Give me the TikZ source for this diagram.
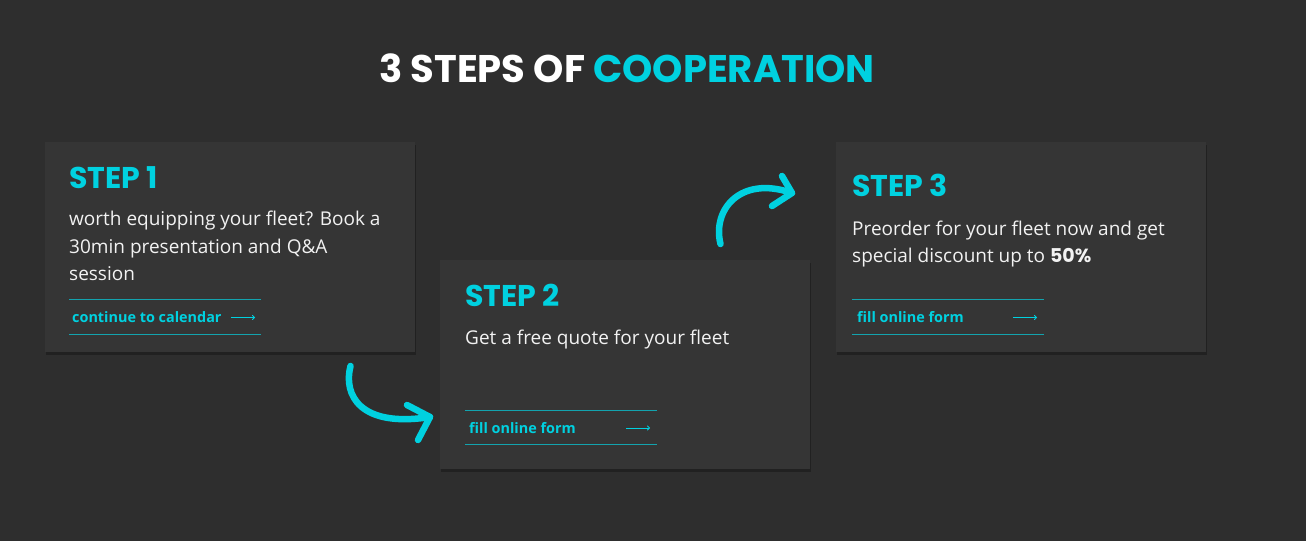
\documentclass[tikz,border=0pt]{standalone}
\usepackage{fontspec}
\setmainfont{Open Sans}
\newfontfamily\headfont{Poppins}
\usetikzlibrary{arrows.meta}
\definecolor{bgc}{HTML}{2E2E2E}
\definecolor{cardc}{HTML}{353535}
\definecolor{cyanc}{HTML}{00D1E0}
\definecolor{linec}{HTML}{13A3AE}
\definecolor{txtc}{HTML}{F2F2F2}
\tikzset{
  card/.style={fill=cardc, draw=none},
  cardshadow/.style={fill=black, opacity=0.28, draw=none},
  head/.style={anchor=base west, inner sep=0pt, text=cyanc, font=\headfont\bfseries\fontsize{30}{34}\selectfont},
  body/.style={anchor=base west, inner sep=0pt, text=txtc, font=\fontsize{19}{27.5}\selectfont},
  link/.style={anchor=base west, inner sep=0pt, text=cyanc, font=\bfseries\fontsize{14.4}{17}\selectfont},
  sep/.style={draw=linec, line width=1pt},
  smallarrow/.style={draw=cyanc, line width=0.8pt, -{To[length=3pt,width=5pt]}},
  bigarrow/.style={draw=cyanc, line width=6.5pt, line cap=round, line join=round},
}
\begin{document}
\begin{tikzpicture}[x=1pt,y=-1pt]
\useasboundingbox (0,0) rectangle (1306,541);
\fill[bgc] (0,0) rectangle (1306,541);
% title
\node[anchor=base, inner sep=0pt, font=\headfont\bfseries\fontsize{38.5}{44}\selectfont] (title) at (627,82)
  {\textcolor{white}{3 STEPS OF} \textcolor{cyanc}{COOPERATION}};
% card shadows
\fill[cardshadow] (46,145) rectangle (416,355);
\fill[cardshadow] (441,263) rectangle (811,472);
\fill[cardshadow] (837,145) rectangle (1207,355);
% cards
\path[card] (45,142) rectangle (415,352);
\path[card] (440,260) rectangle (810,469);
\path[card] (836,142) rectangle (1206,352);
% card 1
\node[head] (h1) at (69,188) {STEP 1};
\node[body] (b1a) at (69,225) {worth equipping your fleet? Book a};
\node[body] (b1b) at (69,253) {30min presentation and Q\&A};
\node[body] (b1c) at (69,280) {session};
\draw[sep] (69,299) -- (261,299);
\draw[sep] (69,334) -- (261,334);
\node[link] (l1) at (72,322) {continue to calendar};
\draw[smallarrow] (231,317.5) -- (255,317.5);
% card 2
\node[head] (h2) at (465,306) {STEP 2};
\node[body] (b2) at (465,344) {Get a free quote for your fleet};
\draw[sep] (465,410) -- (657,410);
\draw[sep] (465,444) -- (657,444);
\node[link] (l2) at (469,433) {fill online form};
\draw[smallarrow] (626,428) -- (650,428);
% card 3
\node[head] (h3) at (852,196) {STEP 3};
\node[body] (b3a) at (852,235) {Preorder for your fleet now and get};
\node[body] (b3b) at (852,262) {special discount up to {\headfont\bfseries 50\%}};
\draw[sep] (852,299) -- (1044,299);
\draw[sep] (852,334) -- (1044,334);
\node[link] (l3) at (857,322) {fill online form};
\draw[smallarrow] (1013,317.5) -- (1037,317.5);
% big curved arrows
\coordinate (a1s) at (350.5,366);
\coordinate (a1e) at (430,417);
\draw[bigarrow] (a1s) .. controls (343,395) and (360,428) .. (a1e);
\draw[bigarrow] (407,405) -- (a1e) -- (418,440);
\coordinate (a2s) at (720.5,244);
\coordinate (a2e) at (792,193);
\draw[bigarrow] (a2s) .. controls (712,210) and (740,175) .. (a2e);
\draw[bigarrow] (782,176) -- (a2e) -- (772,206);
\end{tikzpicture}
\end{document}
